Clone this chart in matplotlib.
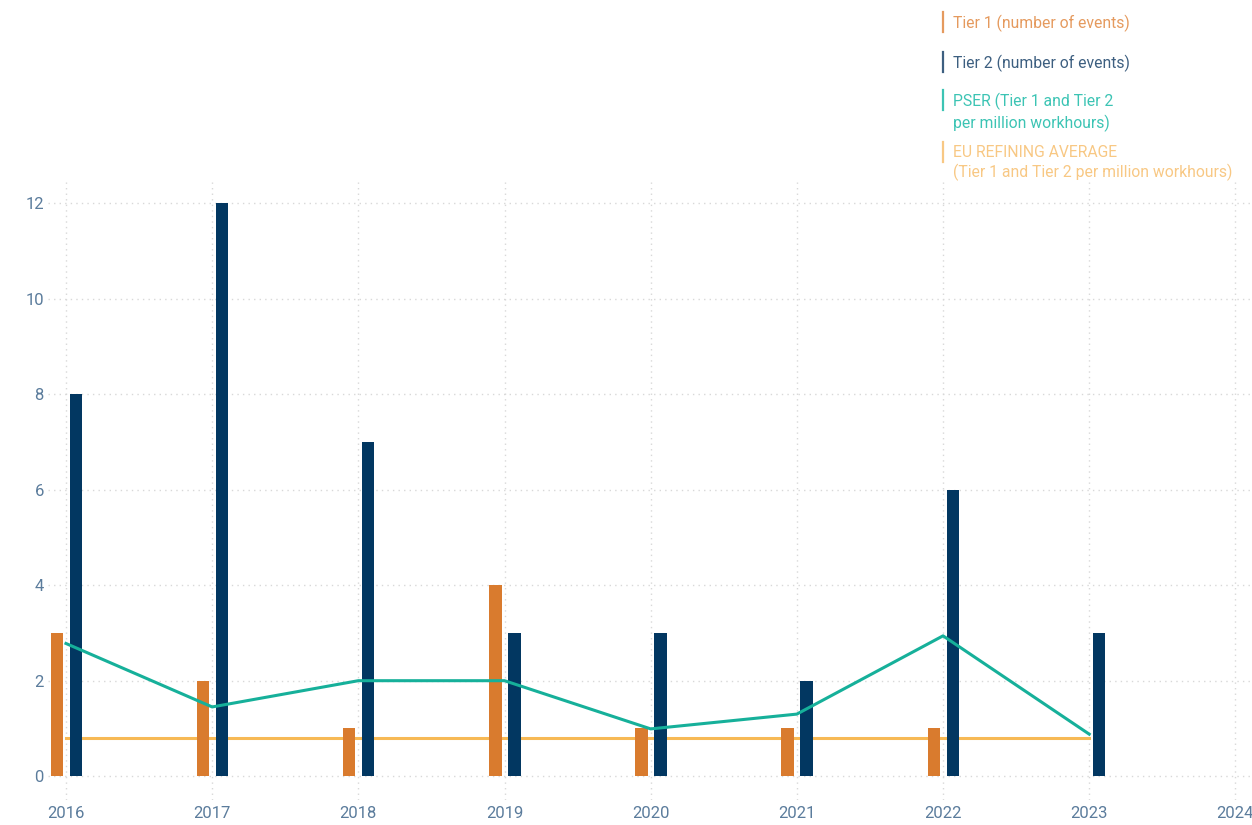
import matplotlib

matplotlib.use("Agg")
import matplotlib.pyplot as plt
import numpy as np

plt.rcParams["font.family"] = ["Roboto", "DejaVu Sans"]

YEARS = [2016, 2017, 2018, 2019, 2020, 2021, 2022, 2023]
TIER1 = [3, 2, 1, 4, 1, 1, 1, 0]
TIER2 = [8, 12, 7, 3, 3, 2, 6, 3]
PSER = [2.78, 1.45, 2.0, 2.0, 0.99, 1.3, 2.94, 0.88]
EU_AVG = 0.8
XTICKS = list(range(2016, 2025))
YTICKS = [0, 2, 4, 6, 8, 10, 12]

C_T1 = "#D97B2E"
C_T2 = "#023761"
C_PSER = "#16B09A"
C_EU = "#F7B955"
C_TICK = "#5B7C9C"

fig = plt.figure(figsize=(12.52, 8.25), dpi=100)
ax = fig.add_axes([48 / 1252, 25 / 825, 1202 / 1252, 618 / 825])

x = np.array(YEARS, dtype=float)
t1 = np.array(TIER1)
mask = t1 > 0
ax.bar(x[mask] - 0.063, t1[mask], width=0.085, color=C_T1, zorder=3)
ax.bar(x + 0.067, TIER2, width=0.085, color=C_T2, zorder=3)
ax.plot(x, PSER, color=C_PSER, lw=2.2, zorder=4)
ax.plot([x[0], x[-1]], [EU_AVG, EU_AVG], color=C_EU, lw=2.2, zorder=2)

ax.set_xlim(2015.877, 2024.1)
ax.set_ylim(-0.5, 12.45)
ax.set_xticks(XTICKS)
ax.set_yticks(YTICKS)
ax.tick_params(length=0, colors=C_TICK, labelsize=12)
ax.tick_params(axis="x", pad=4)
ax.tick_params(axis="y", pad=3)
for s in ax.spines.values():
    s.set_visible(False)
ax.grid(True, color="#D8D8D8", ls=(0, (1, 3)), lw=1.0, zorder=0)

# legend drawn as colored tick + text in figure coords
legend_items = [
    ("Tier 1 (number of events)", "#E59A5E", 24),
    ("Tier 2 (number of events)", "#3D5F80", 64),
    ("PSER (Tier 1 and Tier 2\nper million workhours)", "#3CC4B4", 102),
    ("EU REFINING AVERAGE\n(Tier 1 and Tier 2 per million workhours)", "#F8C884", 154),
]
for label, col, ycen in legend_items:
    y0 = 1 - (ycen - 12) / 825
    fig.add_artist(plt.Line2D([943 / 1252, 943 / 1252], [y0, y0 - 20 / 825],
                              color=col, lw=1.6, transform=fig.transFigure))
    fig.text(953 / 1252, 1 - (ycen - 9) / 825, label, color=col, fontsize=11.3,
             va="top", ha="left", linespacing=1.3)

fig.savefig("out.png", dpi=100)
